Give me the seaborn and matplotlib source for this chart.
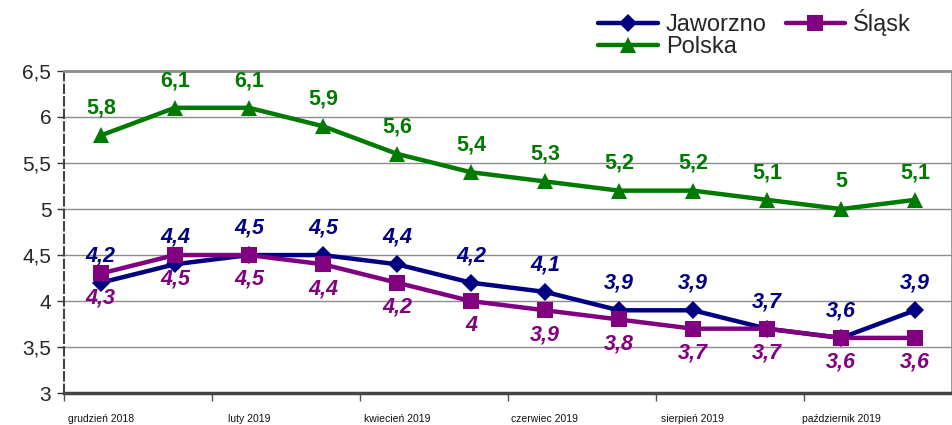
import pandas as pd
import matplotlib.pyplot as plt
import seaborn as sns

months = ['grudzień 2018', 'styczeń 2019', 'luty 2019', 'marzec 2019', 'kwiecień 2019', 'maj 2019',
          'czerwiec 2019', 'lipiec 2019', 'sierpień 2019', 'wrzesień 2019', 'październik 2019', 'listopad 2019']
jaworzno = [4.2, 4.4, 4.5, 4.5, 4.4, 4.2, 4.1, 3.9, 3.9, 3.7, 3.6, 3.9]
slask = [4.3, 4.5, 4.5, 4.4, 4.2, 4.0, 3.9, 3.8, 3.7, 3.7, 3.6, 3.6]
polska = [5.8, 6.1, 6.1, 5.9, 5.6, 5.4, 5.3, 5.2, 5.2, 5.1, 5.0, 5.1]
y_ticks = [3, 3.5, 4, 4.5, 5, 5.5, 6, 6.5]

series = ['Jaworzno', 'Polska', 'Śląsk']
colors = {'Jaworzno': '#000080', 'Śląsk': '#800080', 'Polska': '#007a00'}
markers = {'Jaworzno': 'D', 'Śląsk': 's', 'Polska': '^'}
msize = {'Jaworzno': 9, 'Śląsk': 11, 'Polska': 12}

rows = []
for name, vals in zip(series, [jaworzno, polska, slask]):
    for i, v in enumerate(vals):
        rows.append({'x': i, 'value': v, 'seria': name})
df = pd.DataFrame(rows)

sns.set_theme(style='white')
plt.rcParams['font.family'] = ['Liberation Sans', 'DejaVu Sans']

fig = plt.figure(figsize=(9.53, 4.25), dpi=100)
ax = fig.add_axes([0.067, 0.075, 0.932, 0.758])

for name in series:
    sub = df[df['seria'] == name]
    sns.lineplot(data=sub, x='x', y='value', ax=ax, color=colors[name], linewidth=3.2,
                 marker=markers[name], markersize=msize[name], markeredgewidth=0,
                 label=name, zorder=3)

def fmt(v):
    return ('%g' % v).replace('.', ',')

for i, v in enumerate(polska):
    ax.annotate(fmt(v), (i, v), xytext=(0, 12), textcoords='offset points', ha='center', va='bottom',
                color=colors['Polska'], fontsize=15.5, fontweight='bold')
for i, v in enumerate(jaworzno):
    ax.annotate(fmt(v), (i, v), xytext=(0, 12), textcoords='offset points', ha='center', va='bottom',
                color=colors['Jaworzno'], fontsize=15.5, fontweight='bold', fontstyle='italic')
for i, v in enumerate(slask):
    ax.annotate(fmt(v), (i, v), xytext=(0, -10), textcoords='offset points', ha='center', va='top',
                color=colors['Śląsk'], fontsize=15.5, fontweight='bold', fontstyle='italic')

ax.set_xlim(-0.5, 11.5)
ax.set_ylim(3, 6.5)
ax.set_yticks(y_ticks)
ax.set_yticklabels([fmt(t) for t in y_ticks], fontsize=15)
ax.yaxis.grid(True, color='#8c8c8c', linewidth=1)
ax.tick_params(axis='y', length=5, width=1, color='#333333', left=True, pad=4)

# ticks at slot boundaries, labels centred on every second month
ax.set_xticks([i - 0.5 for i in range(0, 12, 2)])
ax.set_xticklabels([])
ax.tick_params(axis='x', length=6, width=1, color='#555555', bottom=True)
for i in range(0, 12, 2):
    ax.text(i, -0.065, months[i], transform=ax.get_xaxis_transform(), ha='center', va='top',
            fontsize=7.5, color='#111111')

ax.set_xlabel('')
ax.set_ylabel('')
for side in ['top', 'right']:
    ax.spines[side].set_color('#8c8c8c')
    ax.spines[side].set_linewidth(2)
ax.spines['bottom'].set_color('#444444')
ax.spines['bottom'].set_linewidth(2.5)
ax.spines['left'].set_color('#444444')
ax.spines['left'].set_linewidth(1.5)
ax.spines['left'].set_linestyle((0, (4, 2)))

handles, labels = ax.get_legend_handles_labels()
ax.get_legend().remove()
fig.legend(handles, labels, loc='upper left', bbox_to_anchor=(0.628, 0.978), ncol=2,
           frameon=False, fontsize=17, handlelength=2.5, columnspacing=0.8,
           labelspacing=0.0, handletextpad=0.35, borderaxespad=0, borderpad=0)

fig.savefig('out.png', dpi=100)
